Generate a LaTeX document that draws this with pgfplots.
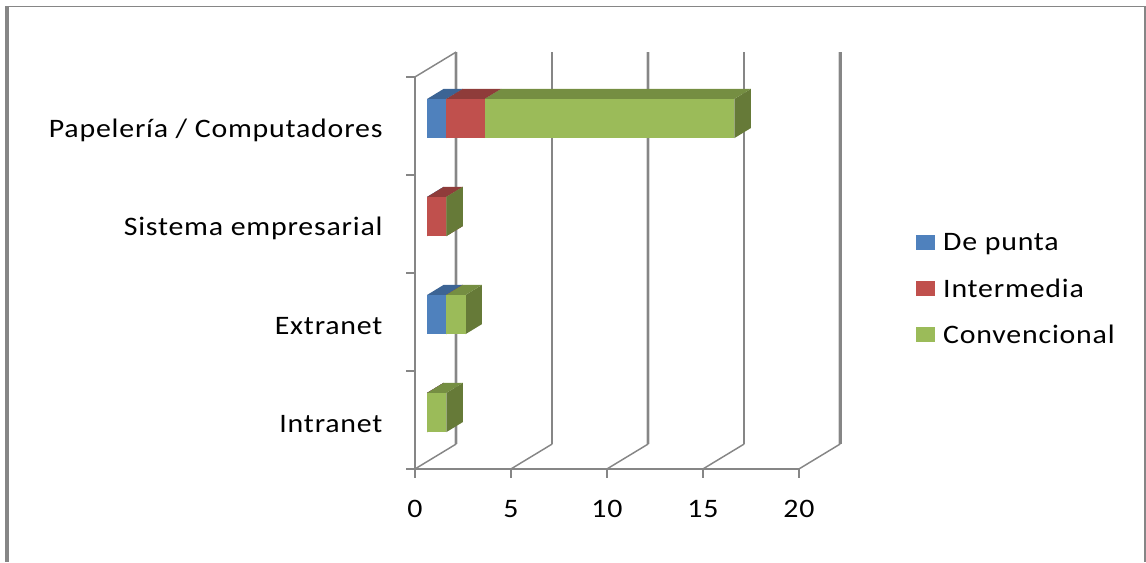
\documentclass[border=0pt]{standalone}
\usepackage{fontspec}
\setmainfont[LetterSpace=3.0,FakeStretch=1.12]{Carlito}
\usepackage{pgfplots}
\pgfplotsset{compat=1.18}
\definecolor{axisgrey}{HTML}{868686}
\definecolor{axislight}{HTML}{D9D9D9}
\definecolor{blueF}{HTML}{4F81BD}
\definecolor{blueT}{HTML}{3C6494}
\definecolor{redF}{HTML}{C0504D}
\definecolor{redT}{HTML}{8F3C3A}
\definecolor{greenF}{HTML}{9BBB59}
\definecolor{greenT}{HTML}{758E42}
\definecolor{greenS}{HTML}{667A38}
\definecolor{blueS}{HTML}{3C6494}
\definecolor{redS}{HTML}{8F3C3A}

% One stacked segment: base value, value, row centre, front/top/side colours.
\newcommand{\segment}[6]{%
  \pgfmathsetmacro{\xa}{#1+0.64}%
  \pgfmathsetmacro{\xb}{#1+#2+0.64}%
  \pgfmathsetmacro{\xaB}{#1+0.64+0.854}%
  \pgfmathsetmacro{\xbB}{#1+#2+0.64+0.854}%
  \pgfmathsetmacro{\yl}{#3-0.2+0.0765}%
  \pgfmathsetmacro{\yh}{#3+0.2+0.0765}%
  \pgfmathsetmacro{\ylB}{#3-0.2+0.0765+0.102}%
  \pgfmathsetmacro{\yhB}{#3+0.2+0.0765+0.102}%
  \addplot[fill=#6,draw=none,forget plot] coordinates {(\xb,\yl)(\xbB,\ylB)(\xbB,\yhB)(\xb,\yh)};
  \addplot[fill=#5,draw=none,forget plot] coordinates {(\xa,\yh)(\xb,\yh)(\xbB,\yhB)(\xaB,\yhB)};
  \addplot[fill=#4,draw=none,forget plot] coordinates {(\xa,\yl)(\xb,\yl)(\xb,\yh)(\xa,\yh)};
}
% One row of the stack: centre, De punta, Intermedia, Convencional.
\newcommand{\stackrow}[4]{%
  \pgfmathsetmacro{\baseR}{#2}%
  \pgfmathsetmacro{\baseG}{#2+#3}%
  \segment{0}{#2}{#1}{blueF}{blueT}{blueS}%
  \segment{\baseR}{#3}{#1}{redF}{redT}{redS}%
  \segment{\baseG}{#4}{#1}{greenF}{greenT}{greenS}%
}
% Back-wall gridline with its floor segment; the underlay gives a soft edge.
\newcommand{\wallline}[3]{%
  \pgfmathsetmacro{\xB}{#1+2.15}%
  \addplot[draw=axislight,line width=#3,forget plot] coordinates {(\xB,0.255)(\xB,4.255)};
  \addplot[draw=axisgrey,line width=#2,forget plot] coordinates {(\xB,0.255)(\xB,4.255)};
  \addplot[draw=axisgrey,line width=1.1pt,forget plot] coordinates {(#1,0)(\xB,0.255)};
}

\begin{document}
\begin{tikzpicture}
\useasboundingbox (-311.175pt,-69.75pt) rectangle (548.325pt,351.75pt);
\begin{axis}[
  at={(0,0)}, anchor=origin,
  scale only axis, width=288pt, height=294pt,
  xmin=0, xmax=20, ymin=0, ymax=4,
  clip=false,
  axis lines=left,
  axis line style={-, draw=axisgrey, line width=1.5pt},
  xtick={0,5,10,15,20},
  ytick={0.5,1.5,2.5,3.5},
  yticklabels={Intranet,Extranet,Sistema empresarial,Papelería / Computadores},
  minor ytick={0,1,2,3,4},
  tick align=outside,
  major tick length=6.5pt,
  minor tick length=6.5pt,
  x tick style={draw=axisgrey, line width=1.5pt},
  y tick style={draw=none},
  minor y tick style={draw=axisgrey, line width=1.5pt},
  tick label style={font=\fontsize{20}{22}\selectfont, text=black},
  /pgf/number format/assume math mode=true,
  yticklabel style={inner sep=0pt, xshift=-17.6pt, yshift=-3pt},
  xticklabel style={inner sep=0pt, yshift=-16.5pt},
  no marks,
  legend cell align=left,
  legend style={
    at={(1.3055,0.6)}, anchor=north west,
    draw=none, fill=none, inner sep=0pt, outer sep=0pt,
    font=\fontsize{20}{22}\selectfont,
    row sep=21pt,
    nodes={inner sep=0pt, text depth=0pt},
    /tikz/every odd column/.style={column sep=6pt},
  },
  legend image code/.code={\fill[#1,draw=none] (0pt,-5.5pt) rectangle (14.25pt,5.5pt);},
]
% wall and floor rules
\wallline{0}{1.5pt}{2.8pt}
\wallline{5}{1.6pt}{1.6pt}
\wallline{10}{1.5pt}{2.8pt}
\wallline{15}{1.6pt}{1.6pt}
\wallline{20}{2pt}{2.6pt}
\addplot[draw=axisgrey,line width=1.1pt,forget plot] coordinates {(0,4)(2.15,4.255)};

% stacked bars; the rows do not overlap, so their order is free
\stackrow{0.5}{0}{0}{1}
\stackrow{1.5}{1}{0}{1}
\stackrow{2.5}{0}{1}{0}
\stackrow{3.5}{1}{2}{13}

\addlegendimage{fill=blueF}\addlegendentry{De punta}
\addlegendimage{fill=redF}\addlegendentry{Intermedia}
\addlegendimage{fill=greenF}\addlegendentry{Convencional}
\end{axis}
% outer frame of the chart area
\begin{scope}[shift={(-311.175pt,351.75pt)},x=0.75pt,y=-0.75pt]
  \draw[axisgrey,line width=2.4pt] (7,6) -- (7,562);
  \draw[axisgrey,line width=1.4pt] (6,6.5) -- (1145,6.5);
  \draw[axisgrey,line width=1.2pt] (1145,6) -- (1145,562);
\end{scope}
\end{tikzpicture}
\end{document}
